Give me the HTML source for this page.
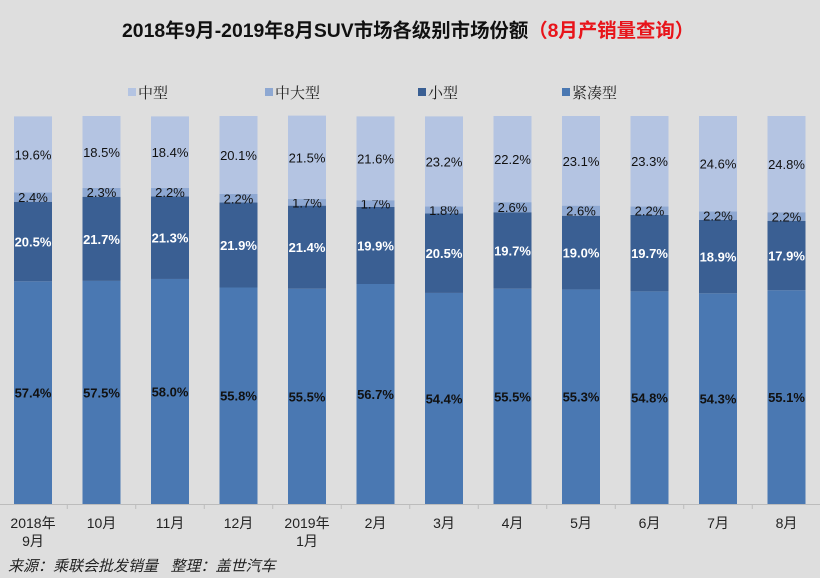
<!DOCTYPE html>
<html><head><meta charset="utf-8"><style>
body{margin:0;background:#dedede;}
svg{display:block;}
</style></head><body>
<svg id="c" width="820" height="578" xmlns="http://www.w3.org/2000/svg">
<rect width="820" height="578" fill="#dedede"/>
<text x="122" y="37" font-family="Liberation Sans, Noto Sans CJK SC, sans-serif" font-size="19.4" font-weight="bold" fill="#111">2018年9月-2019年8月SUV市场各级别市场份额<tspan fill="#e8141a">（8月产销量查询）</tspan></text>
<g id="legend" font-family="Liberation Serif, Noto Serif CJK SC, serif" font-size="15" fill="#222"></g>
<g id="bars"></g>
<line x1="0" y1="504.5" x2="820" y2="504.5" stroke="#bcbcbc"/>
<g id="xlab" font-family="Liberation Sans, Noto Sans CJK SC, sans-serif" font-size="14" fill="#222"></g>
<text x="8" y="571" font-family="Liberation Sans, Noto Sans CJK SC, sans-serif" font-size="15" font-style="italic" fill="#222" xml:space="preserve">来源：乘联会批发销量   整理：盖世汽车</text>
</svg>
<script>
const categories=[["2018年","9月"],["10月"],["11月"],["12月"],["2019年","1月"],["2月"],["3月"],["4月"],["5月"],["6月"],["7月"],["8月"]];
const compact=[57.4,57.5,58.0,55.8,55.5,56.7,54.4,55.5,55.3,54.8,54.3,55.1];
const small=[20.5,21.7,21.3,21.9,21.4,19.9,20.5,19.7,19.0,19.7,18.9,17.9];
const midLarge=[2.4,2.3,2.2,2.2,1.7,1.7,1.8,2.6,2.6,2.2,2.2,2.2];
const mid=[19.6,18.5,18.4,20.1,21.5,21.6,23.2,22.2,23.1,23.3,24.6,24.8];
const seriesNames=["紧凑型","小型","中大型","中型"];
const colors=["#4a78b2","#3a5f93","#8ea8d2","#b4c4e2"];
const NS="http://www.w3.org/2000/svg";
const y0=504,ph=388,x0=33,step=68.5,bw=38;
const xs=i=>x0+i*step;
const ys=v=>v/100*ph;
function mk(t,a,p){const e=document.createElementNS(NS,t);for(const k in a)e.setAttribute(k,a[k]);p.appendChild(e);return e;}
const bars=document.getElementById('bars');
const series=[compact,small,midLarge,mid];
categories.forEach((c,i)=>{
  let base=y0;
  series.forEach((s,k)=>{
    const h=ys(s[i]);
    const r=mk('rect',{x:xs(i)-bw/2,y:base-h,width:bw,height:h,fill:colors[k]},bars);
    
    
    const t=mk('text',{x:xs(i),y:base-h/2+5,'text-anchor':'middle','font-family':'Liberation Sans, sans-serif','font-size':'13',fill:k==1?'#fff':'#111','font-weight':k<2?'bold':'normal'},bars);
    t.textContent=s[i].toFixed(1)+'%';
    
    
    base-=h;
  });
});
const xl=document.getElementById('xlab');
categories.forEach((c,i)=>{
  c.forEach((s,j)=>{
    const t=mk('text',{x:xs(i),y:528+j*18,'text-anchor':'middle'},xl);
    t.textContent=s;
    
    
  });
  if(i<categories.length-1){
    const l=mk('line',{x1:xs(i)+step/2,x2:xs(i)+step/2,y1:504,y2:509,stroke:'#bcbcbc'},xl);
    
    
  }
});
const lg=document.getElementById('legend');
const lx=[128,265,418,562];
[3,2,1,0].forEach((k,j)=>{
  const r=mk('rect',{x:lx[j],y:88,width:8,height:8,fill:colors[k]},lg);
  
  
  const t=mk('text',{x:lx[j]+10,y:98},lg);
  t.textContent=seriesNames[k];
  
  
});
</script>
</body></html>
